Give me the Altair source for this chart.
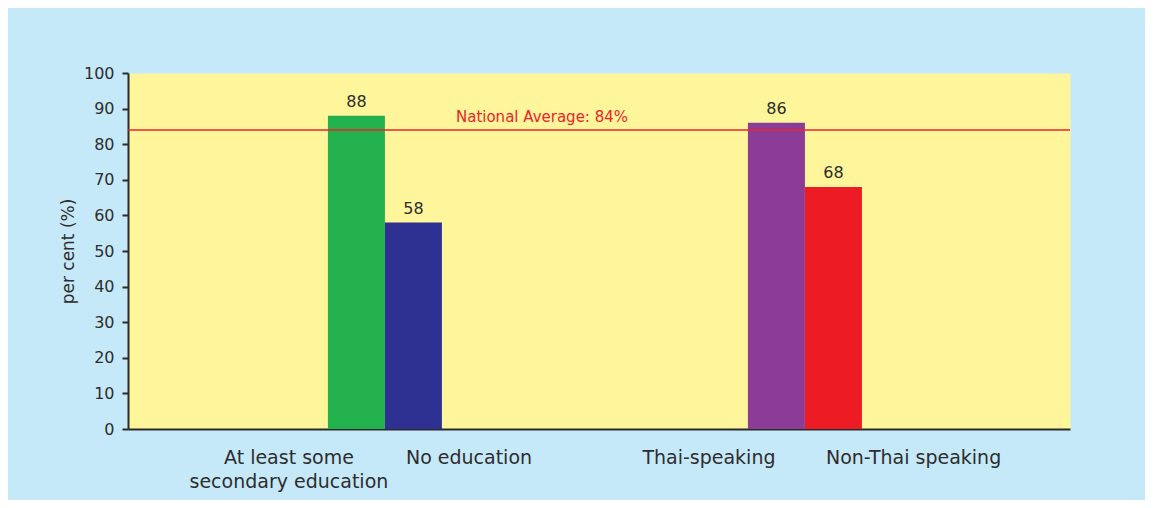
import altair as alt
import pandas as pd

# ---- data ----
categories = ["At least some secondary education", "No education", "Thai-speaking", "Non-Thai speaking"]
display_labels = ["At least some\nsecondary education", "No education", "Thai-speaking", "Non-Thai speaking"]
groups = ["Education", "Education", "Language", "Language"]
values = [88, 58, 86, 68]
bar_colors = ["#22b14c", "#2e3192", "#8b3c96", "#ed1c24"]
y_ticks = [0, 10, 20, 30, 40, 50, 60, 70, 80, 90, 100]
national_average = [84]
avg_label = ["National Average: 84%"]

df = pd.DataFrame({"category": categories, "label": display_labels,
                   "group": groups, "value": values})
df["slot"] = df.groupby("group").cumcount()
df["value_text"] = df["value"].astype(str)

avg_df = pd.DataFrame({"avg": national_average, "text": avg_label})

FONT = "DejaVu Sans"
TEXT = "#2d2d2d"
RED = "#e8262c"
BAR_W = 57

x_scale = alt.Scale(paddingInner=0, paddingOuter=0.1214, align=0.46)
x_axis = alt.Axis(labels=False, ticks=False, title=None, domainColor="#2b2b2b", domainWidth=2)
x_enc = alt.X("group:N", scale=x_scale, axis=x_axis)
y_scale = alt.Scale(domain=[0, 100], nice=False)
y_axis = alt.Axis(values=y_ticks, title="per cent (%)", grid=False, tickSize=6, tickWidth=2,
                  tickColor="#2b2b2b", domainColor="#2b2b2b", domainWidth=2,
                  labelOverlap=False, labelPadding=8, titlePadding=6,
                  labelFontSize=16, titleFontSize=17,
                  titleFontWeight="normal", labelColor=TEXT, titleColor=TEXT)
color_enc = alt.Color("category:N", scale=alt.Scale(domain=categories, range=bar_colors), legend=None)


def y_enc(field):
    return alt.Y(field, scale=y_scale, axis=y_axis)


def bar_layer(slot, shift):
    base = alt.Chart(df).transform_filter(f"datum.slot == {slot}")
    bars = base.mark_bar(width=BAR_W, xOffset=shift).encode(
        x=x_enc, y=y_enc("value:Q"), color=color_enc,
    )
    labels = base.mark_text(dx=shift, dy=-9, fontSize=16, font=FONT, color=TEXT,
                            baseline="alphabetic").encode(
        x=x_enc, y=y_enc("value:Q"), text="value_text:N",
    )
    return bars, labels


bars0, vals0 = bar_layer(0, -BAR_W / 2)
bars1, vals1 = bar_layer(1, BAR_W / 2)

first_labels = alt.Chart(df).transform_filter("datum.slot == 0").mark_text(
    align="center", baseline="alphabetic", dx=-96, fontSize=19, font=FONT,
    color=TEXT, lineBreak="\n", lineHeight=24).encode(
    x=x_enc, y=alt.value(391), text="label:N")

second_labels = alt.Chart(df).transform_filter("datum.slot == 1").mark_text(
    align="left", baseline="alphabetic", dx=21, fontSize=19, font=FONT,
    color=TEXT, lineBreak="\n", lineHeight=24).encode(
    x=x_enc, y=alt.value(391), text="label:N")

avg_rule = alt.Chart(avg_df).mark_rule(color=RED, strokeWidth=1.5).encode(
    y=y_enc("avg:Q"))

avg_text = alt.Chart(avg_df).mark_text(align="center", baseline="alphabetic", dy=-8,
                                       fontSize=15, font=FONT, color=RED).encode(
    x=alt.value(414), y=y_enc("avg:Q"), text="text:N")

chart = alt.layer(bars0, bars1, avg_rule, vals0, vals1, first_labels, second_labels, avg_text).properties(
    width=942, height=356,
    padding={"left": 120, "top": 65, "right": 75, "bottom": 71},
    autosize=alt.AutoSizeParams(type="none"),
    background="#c6e9f9",
).configure_view(
    fill="#fff59b", stroke="transparent"
).configure_axis(
    labelFont=FONT, titleFont=FONT
)

chart.save("out.html", embed_options={"renderer": "svg", "actions": False})
